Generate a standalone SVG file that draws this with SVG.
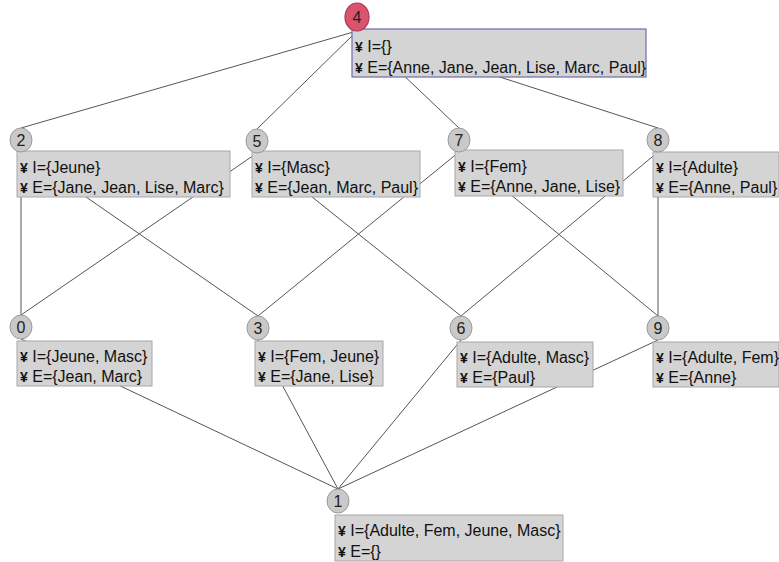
<svg xmlns="http://www.w3.org/2000/svg" width="779" height="562" viewBox="0 0 779 562">
<style>
.e{stroke:#555;stroke-width:1;fill:none}
.box{fill:#d4d4d4;stroke:#a8a8a8;stroke-width:1}
.top{fill:#d4d4d4;stroke:#6c6cb0;stroke-width:1.2}
.c{fill:#c9c9c9;stroke:#9a9a9a;stroke-width:1}
.cr{fill:#d9546c;stroke:#a83a52;stroke-width:1.2}
.n{font-family:"Liberation Sans",Arial,sans-serif;font-size:16px;fill:#222;text-anchor:middle}
.t{font-family:"Liberation Sans",Arial,sans-serif;font-size:16px;fill:#111}
.b{font-weight:bold;font-size:14px}
</style>
<rect width="779" height="562" fill="#fff"/>
<g id="edges">
<line class="e" x1="357" y1="31" x2="21" y2="128"/>
<line class="e" x1="357" y1="31" x2="257" y2="129"/>
<line class="e" x1="357" y1="31" x2="459" y2="128"/>
<line class="e" x1="357" y1="31" x2="658" y2="128"/>
<line class="e" x1="21" y1="152" x2="21" y2="315"/>
<line class="e" x1="21" y1="152" x2="258" y2="316"/>
<line class="e" x1="257" y1="153" x2="21" y2="315"/>
<line class="e" x1="257" y1="153" x2="461" y2="316"/>
<line class="e" x1="459" y1="152" x2="258" y2="316"/>
<line class="e" x1="459" y1="152" x2="658" y2="316"/>
<line class="e" x1="658" y1="152" x2="461" y2="316"/>
<line class="e" x1="658" y1="152" x2="658" y2="316"/>
<line class="e" x1="21" y1="339" x2="338" y2="489"/>
<line class="e" x1="258" y1="340" x2="338" y2="489"/>
<line class="e" x1="461" y1="340" x2="338" y2="489"/>
<line class="e" x1="658" y1="340" x2="338" y2="489"/>
</g>
<g id="node4">
<rect class="top" x="352" y="29" width="294" height="48"/>
<text class="t" x="355" y="52"><tspan class="b">¥</tspan> I={}</text>
<text class="t" x="355" y="73"><tspan class="b">¥</tspan> E={Anne, Jane, Jean, Lise, Marc, Paul}</text>
<ellipse class="cr" cx="357" cy="17" rx="12" ry="14"/>
<text class="n" x="357" y="23">4</text>
</g>
<g id="node2">
<rect class="box" x="17" y="151" width="213" height="46"/>
<text class="t" x="20" y="173"><tspan class="b">¥</tspan> I={Jeune}</text>
<text class="t" x="20" y="193"><tspan class="b">¥</tspan> E={Jane, Jean, Lise, Marc}</text>
<ellipse class="c" cx="21" cy="140" rx="11" ry="12"/>
<text class="n" x="21" y="146">2</text>
</g>
<g id="node5">
<rect class="box" x="252" y="151" width="168" height="46"/>
<text class="t" x="255" y="173"><tspan class="b">¥</tspan> I={Masc}</text>
<text class="t" x="255" y="193"><tspan class="b">¥</tspan> E={Jean, Marc, Paul}</text>
<ellipse class="c" cx="257" cy="141" rx="11" ry="12"/>
<text class="n" x="257" y="147">5</text>
</g>
<g id="node7">
<rect class="box" x="455" y="150" width="168" height="46"/>
<text class="t" x="458" y="172"><tspan class="b">¥</tspan> I={Fem}</text>
<text class="t" x="458" y="192"><tspan class="b">¥</tspan> E={Anne, Jane, Lise}</text>
<ellipse class="c" cx="459" cy="140" rx="11" ry="12"/>
<text class="n" x="459" y="146">7</text>
</g>
<g id="node8">
<rect class="box" x="653" y="152" width="126" height="45"/>
<text class="t" x="656" y="173"><tspan class="b">¥</tspan> I={Adulte}</text>
<text class="t" x="656" y="193"><tspan class="b">¥</tspan> E={Anne, Paul}</text>
<ellipse class="c" cx="658" cy="140" rx="11" ry="12"/>
<text class="n" x="658" y="146">8</text>
</g>
<g id="node0">
<rect class="box" x="17" y="341" width="135" height="45"/>
<text class="t" x="20" y="362"><tspan class="b">¥</tspan> I={Jeune, Masc}</text>
<text class="t" x="20" y="382"><tspan class="b">¥</tspan> E={Jean, Marc}</text>
<ellipse class="c" cx="21" cy="327" rx="11" ry="12"/>
<text class="n" x="21" y="333">0</text>
</g>
<g id="node3">
<rect class="box" x="255" y="341" width="128" height="45"/>
<text class="t" x="258" y="362"><tspan class="b">¥</tspan> I={Fem, Jeune}</text>
<text class="t" x="258" y="382"><tspan class="b">¥</tspan> E={Jane, Lise}</text>
<ellipse class="c" cx="258" cy="328" rx="11" ry="12"/>
<text class="n" x="258" y="334">3</text>
</g>
<g id="node6">
<rect class="box" x="457" y="342" width="136" height="45"/>
<text class="t" x="460" y="363"><tspan class="b">¥</tspan> I={Adulte, Masc}</text>
<text class="t" x="460" y="383"><tspan class="b">¥</tspan> E={Paul}</text>
<ellipse class="c" cx="461" cy="328" rx="11" ry="12"/>
<text class="n" x="461" y="334">6</text>
</g>
<g id="node9">
<rect class="box" x="653" y="342" width="126" height="45"/>
<text class="t" x="656" y="363"><tspan class="b">¥</tspan> I={Adulte, Fem}</text>
<text class="t" x="656" y="383"><tspan class="b">¥</tspan> E={Anne}</text>
<ellipse class="c" cx="658" cy="328" rx="11" ry="12"/>
<text class="n" x="658" y="334">9</text>
</g>
<g id="node1">
<rect class="box" x="335" y="515" width="228" height="46"/>
<text class="t" x="338" y="536"><tspan class="b">¥</tspan> I={Adulte, Fem, Jeune, Masc}</text>
<text class="t" x="338" y="557"><tspan class="b">¥</tspan> E={}</text>
<ellipse class="c" cx="338" cy="501" rx="11" ry="12"/>
<text class="n" x="338" y="507">1</text>
</g>
</svg>
